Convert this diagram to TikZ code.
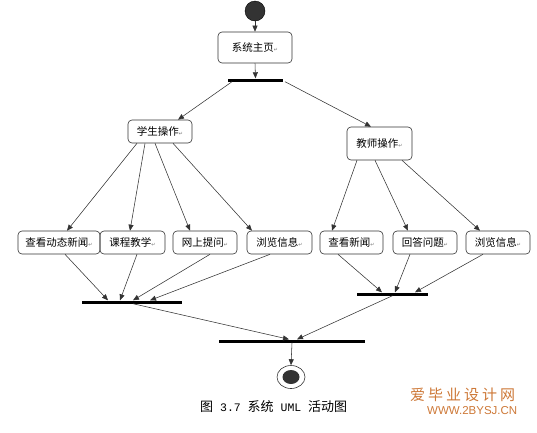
\documentclass[tikz,border=0pt]{standalone}
\usepackage{fontspec}
\usetikzlibrary{arrows.meta,calc,shapes.geometric}
\newfontfamily\cjk{Noto Sans CJK SC}
\newfontfamily\symf{DejaVu Sans}
\newfontfamily\monof{Liberation Mono}
\newfontfamily\wmf[LetterSpace=20]{Noto Sans CJK SC}
\newfontfamily\wmlat{Liberation Sans}
\definecolor{wmorange}{RGB}{205,120,55}
\newcommand\retmark{{\symf\fontsize{5}{5}\selectfont\color{black!55}↵}}
\begin{document}
\begin{tikzpicture}[x=1pt,y=-1pt,
  act/.style={draw=black!80, line width=0.6pt, rounded corners=4pt, inner sep=0pt,
    minimum height=23pt, font=\cjk\fontsize{10.5}{12}\selectfont},
  bar/.style={fill=black, inner sep=0pt, minimum height=3pt},
  arr/.style={draw=black!80, line width=0.55pt, -{Triangle[length=6pt,width=5pt]}}]
\useasboundingbox (0,0) rectangle (537,432);

% initial and final states
\node[circle, fill=black!80, draw=black, minimum size=20pt, inner sep=0pt] (start) at (255,11) {};
\node[draw=black!80, line width=0.6pt, ellipse, minimum width=28pt, minimum height=23pt, inner sep=0pt] (end) at (291,377) {};
\node[ellipse, fill=black!80, minimum width=17pt, minimum height=14pt, inner sep=0pt] (endin) at (end.center) {};

% activities
\node[act, minimum width=74pt, minimum height=31pt] (main) at (255,47.5) {系统主页\retmark};
\node[act, minimum width=64pt] (stu) at (160,131.5) {学生操作\retmark};
\node[act, minimum width=65pt, minimum height=33pt] (tea) at (379.5,143.5) {教师操作\retmark};
\node[act, minimum width=82pt] (b1) at (59,242.5) {查看动态新闻\retmark};
\node[act, minimum width=65pt] (b2) at (132.5,242.5) {课程教学\retmark};
\node[act, minimum width=64pt] (b3) at (205,242.5) {网上提问\retmark};
\node[act, minimum width=65pt] (b4) at (279.5,242.5) {浏览信息\retmark};
\node[act, minimum width=63pt] (b5) at (351.5,242.5) {查看新闻\retmark};
\node[act, minimum width=64pt] (b6) at (425,242.5) {回答问题\retmark};
\node[act, minimum width=64pt] (b7) at (498,242.5) {浏览信息\retmark};

% synchronisation bars
\node[bar, minimum width=55pt] (bar1) at (255.5,80) {};
\node[bar, minimum width=100pt] (sbar) at (132,302) {};
\node[bar, minimum width=71pt] (tbar) at (392.5,294) {};
\node[bar, minimum width=146pt] (fbar) at (292,341) {};

% connectors
\draw[arr] (start.south) -- (main.north);
\draw[arr] (main.south) -- (bar1.north);
\draw[arr] ([xshift=-23.5pt]bar1.south) -- ([xshift=18pt]stu.north);
\draw[arr] ([xshift=29.5pt]bar1.south) -- ([xshift=-8.5pt]tea.north);

\draw[arr] ([xshift=-23pt]stu.south) -- ([xshift=8pt]b1.north);
\draw[arr] ([xshift=-15pt]stu.south) -- ([xshift=-2.5pt]b2.north);
\draw[arr] ([xshift=-5pt]stu.south) -- ([xshift=-15pt]b3.north);
\draw[arr] ([xshift=13pt]stu.south) -- ([xshift=-27.5pt]b4.north);

\draw[arr] ([xshift=-22.5pt]tea.south) -- ([xshift=-19.5pt]b5.north);
\draw[arr] ([xshift=-4.5pt]tea.south) -- ([xshift=-17pt]b6.north);
\draw[arr] ([xshift=22.5pt]tea.south) -- ([xshift=-18pt]b7.north);

\draw[arr] ([xshift=6pt]b1.south) -- ([xshift=-24pt]sbar.north);
\draw[arr] ([xshift=4.5pt]b2.south) -- ([xshift=-12pt]sbar.north);
\draw[arr] ([xshift=5pt]b3.south) -- ([xshift=1pt]sbar.north);
\draw[arr] ([xshift=-9.5pt]b4.south) -- ([xshift=18pt]sbar.north);

\draw[arr] ([xshift=-13.5pt]b5.south) -- ([xshift=-10.5pt]tbar.north);
\draw[arr] ([xshift=-15pt]b6.south) -- ([xshift=2.5pt]tbar.north);
\draw[arr] ([xshift=-15pt]b7.south) -- ([xshift=22.5pt]tbar.north);

\draw[arr] ([xshift=1pt]sbar.south) -- ([xshift=-3pt]fbar.north);
\draw[arr] (tbar.south) -- ([xshift=5pt]fbar.north);
\draw[arr] (fbar.south) -- (end.north);

% caption and watermark
\node[anchor=west, inner sep=0pt, font=\fontsize{13}{15}\selectfont] (cap) at (200,407)
  {{\cjk 图}{\monof\fontsize{11.5}{15}\selectfont\ 3.7 }{\cjk 系统}{\monof\fontsize{11.5}{15}\selectfont\ UML }{\cjk 活动图}};
\node[anchor=west, inner sep=0pt, text=wmorange, font=\wmf\fontsize{15}{16}\selectfont] (wm) at (410,395) {爱毕业设计网};
\node[anchor=west, inner sep=0pt, text=wmorange, font=\wmlat\fontsize{11.5}{12}\selectfont] (wmurl) at (427,411) {WWW.2BYSJ.CN};
\end{tikzpicture}
\end{document}
